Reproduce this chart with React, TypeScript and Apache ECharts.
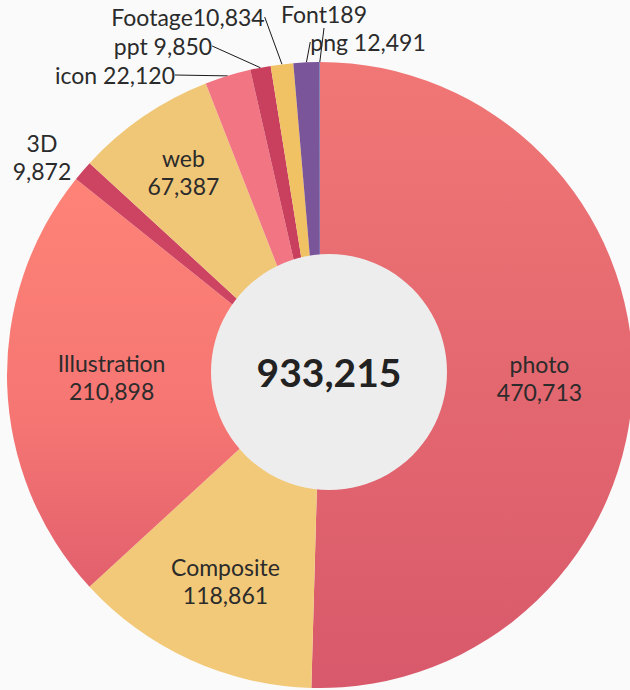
import React, { useEffect, useRef } from 'react';
import * as echarts from 'echarts';

// ---- data ----
const categories = ['photo', 'Composite', 'Illustration', '3D', 'web', 'icon', 'ppt', 'Footage', 'png', 'Font'];
const values = [470713, 118861, 210898, 9872, 67387, 22120, 9850, 10834, 12491, 189];
const labelSeparators = ['\n', '\n', '\n', '\n', '\n', ' ', ' ', '', ' ', ''];
const insideLabels = ['photo', 'Composite', 'Illustration', 'web'];

// ---- styles / layout ----
const sliceColors: any[] = [
  new echarts.graphic.LinearGradient(0, 0, 0, 1, [
    { offset: 0, color: '#f07775' },
    { offset: 1, color: '#d8596b' },
  ]),
  '#f2c978',
  new echarts.graphic.LinearGradient(0, 0, 0, 1, [
    { offset: 0, color: '#fe8377' },
    { offset: 0.6, color: '#f57573' },
    { offset: 1, color: '#e2606d' },
  ]),
  '#cc4462',
  '#f0c677',
  '#f17583',
  '#c9405f',
  '#f0c263',
  '#7a5599',
  '#4a6fb0',
];
const outsideLabelPos: Record<string, [number, number]> = {
  '3D': [42, 157],
  icon: [115, 75],
  ppt: [163, 46],
  Footage: [188, 17],
  Font: [324, 14],
  png: [368, 42],
};
const insideLabelOffset: Record<string, [number, number]> = {
  photo: [6, 0],
  Composite: [-6, 12],
  Illustration: [5, -5],
  web: [-16, -27],
};

const fmt = (n: number) => n.toLocaleString('en-US');
const FONT = 'Lato, "Noto Sans", sans-serif';

export default function App() {
  const ref = useRef<HTMLDivElement>(null);
  useEffect(() => {
    document.body.style.margin = '0';
    document.body.style.background = '#fafafa';
    if (!ref.current) return;
    const chart = echarts.init(ref.current, undefined, { renderer: 'svg' });
    const total = values.reduce((a, b) => a + b, 0);
    const data = categories.map((name, i) => {
      const inside = insideLabels.includes(name);
      return {
        name,
        value: values[i],
        itemStyle: { color: sliceColors[i] },
        label: { position: inside ? 'inside' : 'outside' },
        labelLine: { show: !inside && name !== '3D' },
      };
    });
    chart.setOption({
      animation: false,
      backgroundColor: '#fafafa',
      series: [
        {
          type: 'pie',
          center: [320, 375],
          radius: [108, 313],
          startAngle: 90,
          clockwise: true,
          avoidLabelOverlap: false,
          silent: true,
          itemStyle: { borderWidth: 0 },
          label: {
            show: true,
            fontFamily: FONT,
            fontSize: 23,
            lineHeight: 28,
            color: '#2b2b2b',
            formatter: (p: any) => p.name + labelSeparators[p.dataIndex] + fmt(p.value),
          },
          labelLine: {
            length: 10,
            length2: 0,
            lineStyle: { color: '#1a1a1a', width: 1 },
          },
          labelLayout: (p: any) => {
            const name = categories[p.dataIndex];
            const pos = outsideLabelPos[name];
            if (pos) {
              return { x: pos[0], y: pos[1], align: 'center', verticalAlign: 'middle' };
            }
            const off = insideLabelOffset[name];
            if (off) return { dx: off[0], dy: off[1] };
            return {};
          },
          data,
        },
        {
          type: 'pie',
          center: [329, 372],
          radius: [0, 118],
          silent: true,
          itemStyle: { color: '#ededed' },
          labelLine: { show: false },
          label: {
            show: true,
            position: 'center',
            fontFamily: FONT,
            fontWeight: 'bold',
            fontSize: 39,
            color: '#222222',
            formatter: () => fmt(total),
          },
          data: [{ name: 'total', value: total }],
        },
      ],
    });
    return () => chart.dispose();
  }, []);
  return <div ref={ref} style={{ width: 630, height: 690 }} />;
}
